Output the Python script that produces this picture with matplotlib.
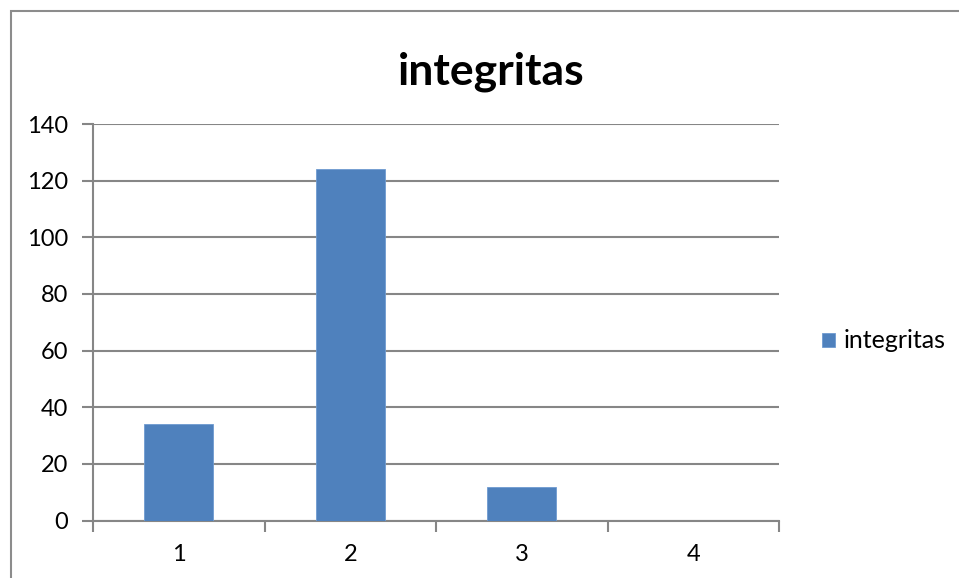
import matplotlib.pyplot as plt
from matplotlib.patches import Rectangle
import numpy as np

categories = ['1', '2', '3', '4']
values = [34, 124, 12, 0]
series_name = 'integritas'
y_ticks = [0, 20, 40, 60, 80, 100, 120, 140]

plt.rcParams['font.family'] = ['Lato', 'DejaVu Sans']

fig = plt.figure(figsize=(9.59, 5.78), dpi=100)
ax = fig.add_axes([93 / 959, 1 - 520.5 / 578, (779 - 93) / 959, (520.5 - 124) / 578])

# outer chart border (cut off at right and bottom like the source)
fig.patches.append(Rectangle((11 / 959, -0.1), 1.1, 1 - 11 / 578 + 0.1,
                             transform=fig.transFigure, fill=False,
                             edgecolor='#8c8c8c', linewidth=1.5))

x = np.arange(1, len(categories) + 1)
ax.bar(x, values, width=0.4, color='#4f81bd', edgecolor='#6f9bd0',
       linewidth=0.6, label=series_name, zorder=3)

ax.set_xlim(0.5, 4.5)
ax.set_ylim(0, 140)
ax.set_yticks(y_ticks)
ax.set_xticks(x)
ax.set_xticklabels(categories)
ax.set_xticks(np.arange(0.5, 4.6, 1), minor=True)

ax.grid(axis='y', color='#868686', linewidth=1.5, zorder=0)
for s in ['top', 'right']:
    ax.spines[s].set_visible(False)
for s in ['left', 'bottom']:
    ax.spines[s].set_color('#868686')
    ax.spines[s].set_linewidth(1.5)

ax.tick_params(axis='y', length=8, width=1.5, color='#868686', labelsize=17, pad=10)
ax.tick_params(axis='x', which='major', length=0, labelsize=17, pad=17)
ax.tick_params(axis='x', which='minor', length=8, width=1.5, color='#868686')

fig.text(491 / 959, 1 - 85 / 578, 'integritas', ha='center', va='baseline',
         fontsize=32, fontweight='bold')

ax.legend(loc='center left', bbox_to_anchor=(822 / 959, 1 - 341 / 578),
          bbox_transform=fig.transFigure, frameon=False, fontsize=18,
          borderpad=0, borderaxespad=0,
          handlelength=0.5, handleheight=0.5, handletextpad=0.36)

fig.savefig('out.png', dpi=100)
